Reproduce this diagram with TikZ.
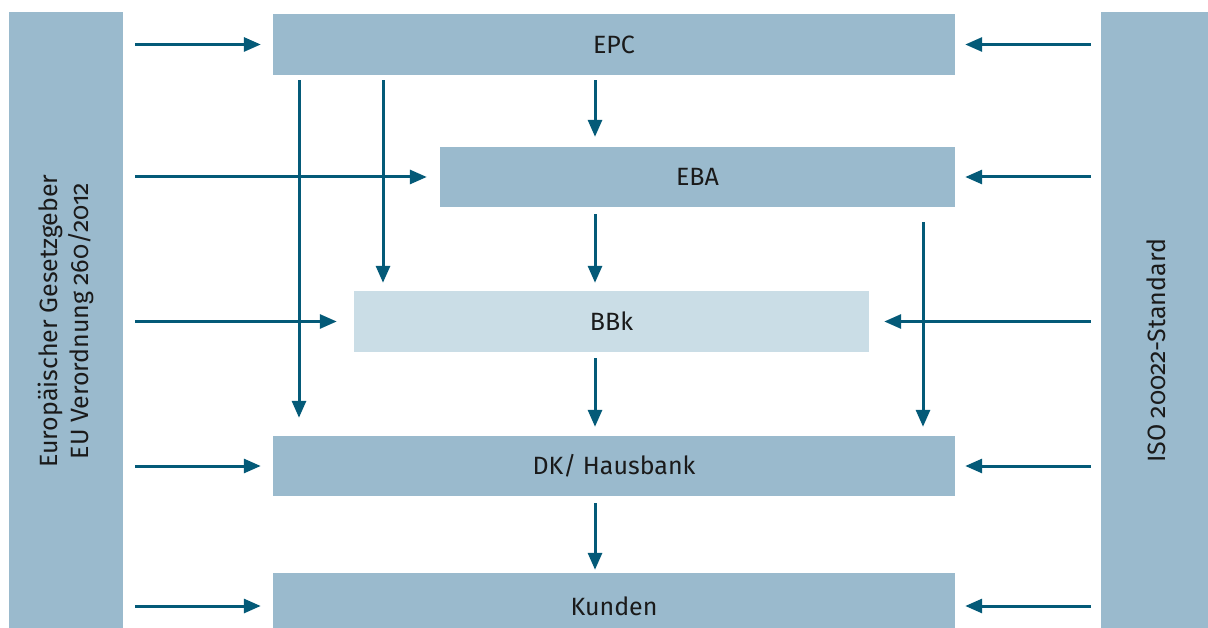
\documentclass[tikz,border=0pt]{standalone}
\usepackage{fontspec}
\setmainfont{Fira Sans}[Numbers=OldStyle]
\usetikzlibrary{arrows.meta}
\definecolor{boxblue}{HTML}{9ABACD}
\definecolor{boxlight}{HTML}{CADDE6}
\definecolor{arrowblue}{HTML}{045A78}
\definecolor{txt}{HTML}{1A1A1A}
\tikzset{
  box/.style={fill=boxblue, draw=none, inner sep=0pt, text=txt, font=\fontsize{25}{30}\selectfont},
  lightbox/.style={box, fill=boxlight},
  sidebar/.style={fill=boxblue, draw=none, inner sep=0pt},
  sidetext/.style={rotate=90, text=txt, align=center, font=\fontsize{25}{31}\selectfont},
  arr/.style={draw=arrowblue, line width=3pt, -{Triangle[length=17pt,width=14pt]}}
}
\begin{document}
\begin{tikzpicture}[x=1pt,y=-1pt]
\useasboundingbox (0,0) rectangle (1208,628);
% side bars
\node[sidebar, minimum width=114pt, minimum height=616pt] (lbar) at (66,320) {};
\node[sidebar, minimum width=107pt, minimum height=616pt] (rbar) at (1154.5,320) {};
\node[sidetext] (ltext) at (66,321) {Europäischer Gesetzgeber\\EU Verordnung 260/2012};
\node[sidetext] (rtext) at (1156,351) {ISO 20022-Standard};
% boxes
\node[box, minimum width=682pt, minimum height=61pt] (epc) at (614,44.5) {EPC};
\node[box, minimum width=515pt, minimum height=60pt] (eba) at (697.5,177) {EBA};
\node[lightbox, minimum width=515pt, minimum height=61pt] (bbk) at (611.5,321.5) {BBk};
\node[box, minimum width=682pt, minimum height=60pt] (dk) at (614,466) {DK/ Hausbank};
\node[box, minimum width=682pt, minimum height=55pt] (kunden) at (614,600.5) {};
\node[text=txt, font=\fontsize{25}{30}\selectfont, inner sep=0pt] (kundentext) at (614,606) {Kunden};
% column coordinates
\coordinate (x299) at (299,0);
\coordinate (x383) at (383,0);
\coordinate (x595) at (595,0);
\coordinate (x923) at (923,0);
% vertical arrows
\draw[arr, shorten <=5pt, shorten >=18pt] (epc.south -| x299) -- (dk.north -| x299);
\draw[arr, shorten <=5pt, shorten >=8pt] (epc.south -| x383) -- (bbk.north -| x383);
\draw[arr, shorten <=5pt, shorten >=10pt] (epc.south -| x595) -- (eba.north -| x595);
\draw[arr, shorten <=7pt, shorten >=8pt] (eba.south -| x595) -- (bbk.north -| x595);
\draw[arr, shorten <=6pt, shorten >=9pt] (bbk.south -| x595) -- (dk.north -| x595);
\draw[arr, shorten <=7pt, shorten >=3pt] (dk.south -| x595) -- (kunden.north -| x595);
\draw[arr, shorten <=15pt, shorten >=9pt] (eba.south -| x923) -- (dk.north -| x923);
% left arrows
\draw[arr, shorten <=12pt, shorten >=12pt] (lbar.east |- epc.west) -- (epc.west);
\draw[arr, shorten <=12pt, shorten >=13pt] (lbar.east |- eba.west) -- (eba.west);
\draw[arr, shorten <=12pt, shorten >=17pt] (lbar.east |- bbk.west) -- (bbk.west);
\draw[arr, shorten <=12pt, shorten >=12pt] (lbar.east |- dk.west) -- (dk.west);
\draw[arr, shorten <=12pt, shorten >=12pt] (lbar.east |- kundentext) -- (kundentext -| kunden.west);
% right arrows
\draw[arr, shorten <=10pt, shorten >=10pt] (rbar.west |- epc.east) -- (epc.east);
\draw[arr, shorten <=10pt, shorten >=10pt] (rbar.west |- eba.east) -- (eba.east);
\draw[arr, shorten <=10pt, shorten >=15pt] (rbar.west |- bbk.east) -- (bbk.east);
\draw[arr, shorten <=10pt, shorten >=10pt] (rbar.west |- dk.east) -- (dk.east);
\draw[arr, shorten <=10pt, shorten >=10pt] (rbar.west |- kundentext) -- (kundentext -| kunden.east);
\end{tikzpicture}
\end{document}
